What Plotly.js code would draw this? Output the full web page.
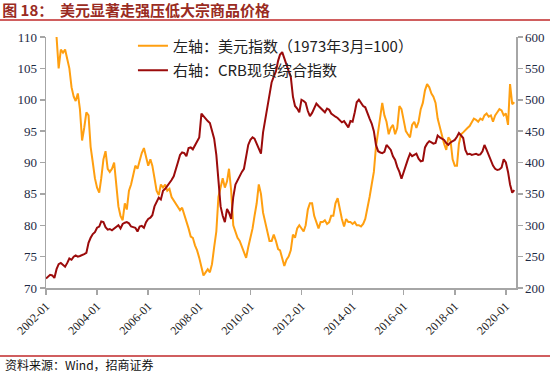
<!DOCTYPE html>
<html>
<head>
<meta charset="utf-8">
<script src="https://cdn.plot.ly/plotly-3.0.1.min.js"></script>
<style>html,body{margin:0;padding:0;background:#fff;}#chart{width:550px;height:374px;}</style>
</head>
<body>
<div id="chart"></div>
<script>
// Monthly observations starting 2002-01
const startYear = 2002;
const startMonth = 1;

// 美元指数 (left axis), monthly from 2002-01
const usdIndex = [
119.5,119.8,118.5,116,112.5,110,105,108,107.5,108,106.5,105,
102,100.5,99.8,101,98.5,93.5,95.5,98,97.5,92.5,90,87.5,
86,85.2,87.5,90.5,91.8,89,88.5,89,90,86.5,83,81.5,
80.8,83.5,82.5,85.5,86.5,88,89.5,89,90.5,91.5,92.3,91,
89.5,90.5,89.5,87.5,85.5,84.8,86.5,86,86.5,85.5,85.8,84.5,
84,83.5,83,82.4,82.8,81.8,80.5,79.5,78.2,78,76.8,76,
74.8,73.5,72,72.5,73,72.5,73.8,76.5,79,84.5,86,87.5,
86,87,89,85.5,80,79,78,77.5,76.5,75.5,74.8,76.5,
78,79.5,81.5,83.5,86.5,85,82,80.5,78.5,77.5,77.5,78.5,
77.5,76.2,76,74.5,73.5,74.5,75,76,78.5,78,79.5,80,
79.5,79,80,82.5,83.5,83.5,81.5,80.5,79.5,80.5,80.5,80.8,
80.2,80.5,81.5,81.5,83.5,84.3,82.5,81,79.8,81,80.5,80.5,
80.2,80.5,80,80,79.8,80.2,81,82.5,84.5,86.5,88.5,92.5,
95,98,99.5,97.5,96.5,94.5,95.5,96,94.5,95.5,99,98.5,
96.5,95,94.5,94,96,96.5,95.5,96.5,98.5,99.5,101.5,102.5,
102,101,100.5,99.5,97,95.5,94,93,92,94,93.5,90.5,
89.5,89.5,93,94.5,94.8,95.2,95.5,95.8,96.5,97,96.8,96.5,
97,96.8,97.5,97.8,97.3,97.5,96.5,97.5,98,98.5,98.3,97.5,
97.8,96,102.5,99.3,99.6
];

// CRB现货综合指数 (right axis), monthly from 2002-01
const crbIndex = [
215,218,221,220,216,230,238,240,237,234,240,247,
245,250,252,250,251,252,254,256,272,280,286,289,
296,298,306,305,297,293,294,292,295,298,300,295,
302,304,305,303,298,297,296,290,298,299,296,305,
310,312,316,330,337,344,341,355,358,362,368,372,
378,388,400,412,416,415,410,423,424,421,428,434,
440,478,474,469,466,463,452,438,412,370,330,315,
305,326,320,310,345,365,372,378,385,390,410,428,
436,440,438,430,422,414,448,468,493,510,528,537,
545,562,572,576,566,553,546,537,505,490,486,480,
500,498,495,482,474,479,486,494,490,487,483,480,
486,484,478,475,473,471,467,464,466,460,456,466,
465,480,496,500,495,490,488,478,470,462,450,428,
418,416,415,417,428,424,420,410,404,393,385,374,
386,397,405,414,410,412,414,406,402,403,424,430,
434,432,430,431,443,440,438,436,431,428,432,434,
436,441,447,443,439,420,413,414,412,413,414,412,
413,418,428,420,412,405,395,390,388,389,392,405,
400,385,365,352,356
];

const tickLabels = ['2002-01','2004-01','2006-01','2008-01','2010-01','2012-01','2014-01','2016-01','2018-01','2020-01'];

function monthDate(i){
  const t = (startYear*12 + (startMonth-1)) + i;
  const y = Math.floor(t/12), m = t%12 + 1;
  return y + '-' + (m<10?'0':'') + m + '-01';
}
const dates = crbIndex.map((_, i) => monthDate(i));
const usdDates = usdIndex.map((_, i) => monthDate(i));
const tickVals = tickLabels.map(s => s + '-01');

const serif = 'Liberation Serif, Times New Roman, serif';
const cjk = 'Noto Sans CJK SC, sans-serif';

const traces = [
  {x: usdDates, y: usdIndex, type:'scatter', mode:'lines', name:'左轴：美元指数（1973年3月=100）',
   line:{color:'#FF9F10', width:2}, yaxis:'y', legendgroup:'a'},
  {x: dates, y: crbIndex, type:'scatter', mode:'lines', name:'右轴：CRB现货综合指数',
   line:{color:'#9B0B0B', width:2}, yaxis:'y2', legendgroup:'b'}
];

const axisCommon = {showgrid:false, zeroline:false, showline:true, linecolor:'#A6A6A6', linewidth:1.5,
  ticks:'outside', ticklen:5, tickcolor:'#A6A6A6', tickwidth:1.5,
  tickfont:{family:serif, size:13, color:'#1E2A44'}};

const layout = {
  width:550, height:374,
  margin:{l:46, r:34, t:37, b:86},
  paper_bgcolor:'#fff', plot_bgcolor:'#fff',
  showlegend:true,
  legend:{x:0.185, y:1.03, xanchor:'left', yanchor:'top', bgcolor:'rgba(0,0,0,0)',
    font:{family:cjk, size:15, color:'#222'}, traceorder:'grouped', tracegroupgap:2, itemwidth:30},
  title:{text:'<b>图 18：  美元显著走强压低大宗商品价格</b>', x:0.004, xref:'container', xanchor:'left',
    y:0.972, yref:'container', yanchor:'middle', font:{family:cjk, size:15, color:'#9A2B22'}},
  xaxis:Object.assign({}, axisCommon, {type:'date', range:['2002-01-01','2020-05-25'],
    tickvals:tickVals, ticktext:tickLabels, tickangle:-45, tickfont:{family:serif, size:12, color:'#222'}}),
  yaxis:Object.assign({}, axisCommon, {range:[70,110], dtick:5, tick0:70}),
  yaxis2:Object.assign({}, axisCommon, {range:[200,600], dtick:50, tick0:200, overlaying:'y', side:'right'}),
  shapes:[
    {type:'line', xref:'paper', yref:'paper', x0:-46/470, x1:504/470, y0:(288-20)/251, y1:(288-20)/251,
     line:{color:'#C0282A', width:1.5}},
    {type:'line', xref:'paper', yref:'paper', x0:-46/470, x1:504/470, y0:(288-356)/251, y1:(288-356)/251,
     line:{color:'#C0282A', width:1.5}}
  ],
  annotations:[
    {text:'资料来源：Wind，招商证券', xref:'paper', yref:'paper', x:-43/470, y:(288-364)/251,
     xanchor:'left', yanchor:'middle', showarrow:false, font:{family:cjk, size:12, color:'#111'}}
  ]
};

Plotly.newPlot('chart', traces, layout, {staticPlot:true, displayModeBar:false});
</script>
</body>
</html>
